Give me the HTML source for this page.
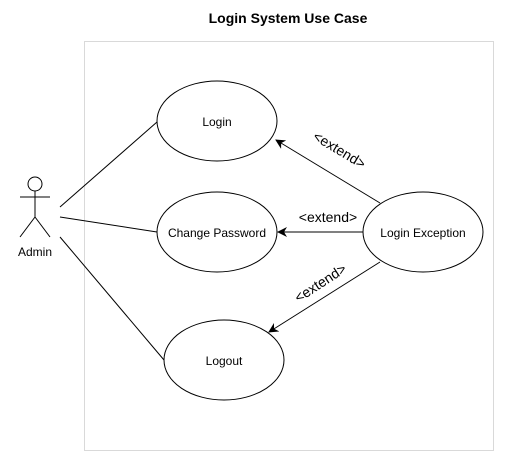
<!DOCTYPE html>
<html><head><style>
body{margin:0;background:#fff;}
svg{display:block;font-family:"Liberation Sans",Arial,sans-serif;}
</style></head><body>
<svg width="515" height="472" viewBox="0 0 515 472">
<defs><marker id="a" markerWidth="10" markerHeight="10" refX="9" refY="5" orient="auto" markerUnits="userSpaceOnUse"><path d="M0,0 L10,5 L0,10 L3,5 Z" fill="#000"/></marker></defs>
<text x="288" y="23" text-anchor="middle" font-size="14" font-weight="bold">Login System Use Case</text>
<rect x="84.5" y="41.5" width="409" height="409" fill="none" stroke="#d9d9d9"/>
<g fill="none" stroke="#000" stroke-width="1">
<ellipse cx="217" cy="121" rx="60" ry="40"/>
<ellipse cx="217" cy="232" rx="60" ry="40"/>
<ellipse cx="423" cy="232" rx="60" ry="40"/>
<ellipse cx="224" cy="360" rx="60" ry="40"/>
<circle cx="35" cy="184" r="7"/>
<line x1="35" y1="191" x2="35" y2="217"/>
<line x1="20" y1="197" x2="50" y2="197"/>
<line x1="35" y1="217" x2="20" y2="237"/>
<line x1="35" y1="217" x2="50" y2="237"/>
<line x1="60" y1="207" x2="157" y2="122"/>
<line x1="60" y1="217" x2="157" y2="232"/>
<line x1="60" y1="237" x2="164" y2="360"/>
<line x1="380" y1="203" x2="276" y2="140" marker-end="url(#a)"/>
<line x1="363" y1="232" x2="278" y2="232" marker-end="url(#a)"/>
<line x1="380" y1="262" x2="269" y2="332" marker-end="url(#a)"/>
</g>
<g font-size="12" text-anchor="middle">
<text x="217" y="126">Login</text>
<text x="217" y="237">Change Password</text>
<text x="423" y="237">Login Exception</text>
<text x="224" y="365">Logout</text>
<text x="35" y="256">Admin</text>
</g>
<g font-size="14" text-anchor="middle">
<text transform="translate(337,154) rotate(31)">&lt;extend&gt;</text>
<text x="328" y="222">&lt;extend&gt;</text>
<text transform="translate(323,287) rotate(-33)">&lt;extend&gt;</text>
</g>
</svg>
</body></html>
